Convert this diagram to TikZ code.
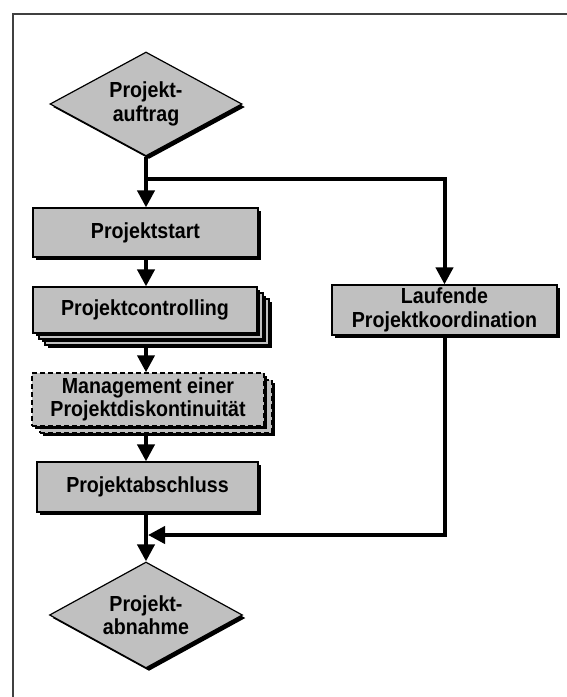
\documentclass[tikz,border=0pt]{standalone}
\usepackage{fontspec}
\setmainfont{Liberation Sans}[FakeStretch=0.9]
\usetikzlibrary{shapes.geometric,shadows,arrows.meta,calc}
\definecolor{boxgray}{RGB}{192,192,192}
\begin{document}
\begin{tikzpicture}[x=1pt,y=-1pt,
  every node/.style={font=\fontsize{21.8}{23.5}\selectfont\bfseries, align=center, inner sep=0pt},
  sh/.style={drop shadow={shadow xshift=3pt,shadow yshift=-3pt,fill=black,opacity=1}},
  boxnode/.style={rectangle, draw=black, line width=1.2pt, fill=boxgray, sh},
  dashbox/.style={boxnode, line width=1.5pt, dash pattern=on 5pt off 3pt},
  decision/.style={diamond, draw=black, line width=1.2pt, fill=boxgray, sh},
  flow/.style={line width=4pt, -{Triangle[length=17pt,width=17pt]}},
  frame/.style={line width=1.5pt, draw=black!75}
]
\useasboundingbox (0,0) rectangle (567,697);
\draw[frame] (13,697) -- (13,14) -- (567,14);

\node[decision, minimum width=192pt, minimum height=104pt,
      label={center:Projekt-\\auftrag}] (auftrag) at (146,104) {};
\node[boxnode, minimum width=225pt, minimum height=49pt] (start) at (145.5,232.5) {Projektstart};
\node[boxnode, minimum width=224pt, minimum height=46pt] (ctrlB) at (157,322) {};
\node[boxnode, minimum width=224pt, minimum height=46pt] (ctrlM) at (151,316) {};
\node[boxnode, minimum width=224pt, minimum height=46pt] (ctrl) at (145,310) {Projektcontrolling};
\node[dashbox, minimum width=232pt, minimum height=53pt] (mgmtB) at (156,406.5) {};
\node[dashbox, minimum width=232pt, minimum height=53pt] (mgmt) at (148,399.5) {Management einer\\Projektdiskontinuität};
\node[boxnode, minimum width=221pt, minimum height=50pt] (abschluss) at (147.5,487) {Projektabschluss};
\node[boxnode, minimum width=225pt, minimum height=50pt] (lauf) at (444.5,310) {Laufende\\Projektkoordination};
\node[decision, minimum width=193pt, minimum height=106pt,
      label={center:Projekt-\\abnahme}] (abnahme) at (146,615) {};

\coordinate (br) at (144,179);
\coordinate (join) at (148,535);

\draw[flow] (auftrag.south) -- (auftrag.south |- start.north);
\draw[flow] (br) -| (lauf.north);
\draw[flow] (start.south -| auftrag.south) -- (ctrl.north -| auftrag.south);
\draw[flow] (ctrlB.south -| auftrag.south) -- (mgmt.north -| auftrag.south);
\draw[flow] (mgmtB.south -| auftrag.south) -- (abschluss.north -| auftrag.south);
\draw[flow] (abschluss.south -| abnahme.north) -- (abnahme.north);
\draw[flow] (lauf.south) |- (join);
\end{tikzpicture}
\end{document}
